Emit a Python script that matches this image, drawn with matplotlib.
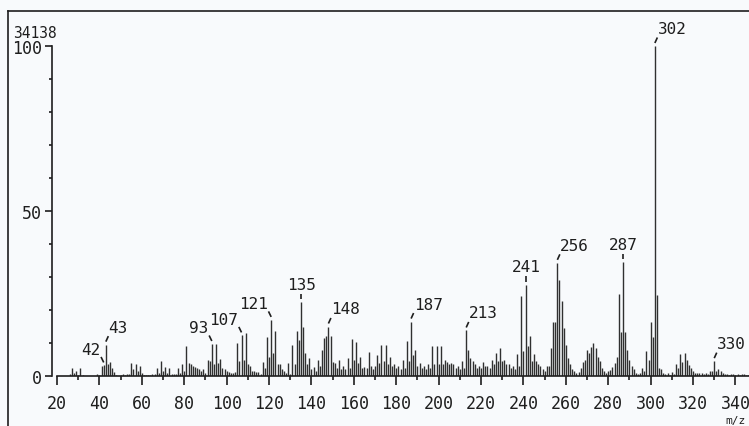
import matplotlib
matplotlib.use("Agg")
import matplotlib.pyplot as plt
from matplotlib.lines import Line2D
from matplotlib.transforms import IdentityTransform, ScaledTranslation
import numpy as np

# ---- data: m/z and relative intensity (%) ----
mz = list(range(20, 347))
intensity = [
    0, 0, 0, 0, 0, 0, 0.5, 2.5, 1.0, 1.5,          # 20-29
    0.3, 2.5, 0.3, 0, 0, 0, 0, 0, 0, 0.5,            # 30-39
    0.3, 3.0, 3.2, 9.5, 3.5, 4.2, 2.5, 1.2, 0.3, 0,  # 40-49
    0.3, 0.5, 0.3, 0.5, 0.5, 4.0, 2.0, 3.5, 1.5, 3.0,  # 50-59
    1.0, 0.3, 0.3, 0.3, 0.3, 0.5, 0.5, 2.5, 1.0, 4.5,  # 60-69
    1.5, 2.8, 1.0, 2.5, 0.5, 0.5, 0.5, 2.5, 1.0, 3.5,  # 70-79
    1.5, 9.0, 3.8, 3.5, 3.0, 2.7, 2.5, 2.0, 1.5, 2.0,  # 80-89
    1.0, 4.7, 4.5, 9.7, 3.5, 9.7, 4.0, 5.2, 2.5, 2.0,  # 90-99
    1.5, 1.2, 0.8, 0.8, 1.2, 10.0, 4.5, 12.3, 5.0, 13.0,  # 100-109
    3.5, 3.0, 1.5, 1.5, 1.3, 1.3, 0.5, 4.2, 2.5, 11.9,  # 110-119
    5.9, 17.0, 7.0, 13.6, 3.7, 3.5, 2.0, 1.5, 1.0, 3.8,  # 120-129
    0.5, 9.5, 3.5, 13.7, 11.0, 22.3, 15.0, 7.0, 3.5, 5.5,  # 130-139
    2.0, 2.8, 1.5, 4.8, 3.0, 7.8, 11.5, 12.0, 15.0, 12.0,  # 140-149
    4.3, 4.0, 2.5, 4.8, 2.0, 3.0, 2.0, 5.5, 2.5, 11.3,  # 150-159
    5.0, 10.2, 4.0, 5.7, 2.5, 2.8, 2.5, 7.2, 3.0, 2.0,  # 160-169
    3.0, 6.3, 4.0, 9.4, 4.5, 9.5, 3.5, 5.8, 3.0, 3.5,  # 170-179
    2.5, 3.0, 2.0, 4.8, 2.5, 10.6, 4.5, 16.5, 6.3, 7.9,  # 180-189
    3.0, 4.0, 2.5, 3.0, 2.0, 3.5, 2.5, 9.1, 3.5, 9.2,  # 190-199
    3.5, 9.0, 3.5, 4.7, 4.3, 3.5, 4.0, 3.5, 2.5, 3.0,  # 200-209
    2.0, 4.5, 2.5, 13.8, 7.8, 5.6, 4.5, 3.5, 2.5, 3.0,  # 210-219
    2.5, 4.3, 3.0, 3.0, 2.5, 4.7, 3.5, 7.1, 4.5, 8.6,  # 220-229
    4.5, 5.0, 3.5, 3.5, 2.5, 3.0, 2.0, 6.6, 3.0, 24.2,  # 230-239
    7.6, 27.6, 9.0, 12.1, 4.5, 6.6, 4.5, 3.5, 3.0, 2.0,  # 240-249
    1.5, 3.0, 3.0, 8.6, 16.5, 16.5, 34.3, 29.0, 22.8, 14.5,  # 250-259
    9.5, 5.5, 3.5, 2.0, 1.5, 1.0, 1.3, 2.3, 4.3, 4.8,  # 260-269
    7.9, 6.9, 8.9, 10.1, 8.4, 5.9, 4.5, 2.3, 1.6, 1.0,  # 270-279
    1.5, 1.8, 2.8, 3.8, 5.9, 24.8, 13.4, 34.5, 13.4, 7.9,  # 280-289
    4.8, 3.0, 2.0, 1.0, 0.5, 1.0, 2.5, 1.5, 7.6, 4.8,  # 290-299
    16.5, 11.9, 100.0, 24.5, 2.3, 2.0, 0.8, 0.5, 0.8, 0.3,  # 300-309
    1.3, 0.5, 3.6, 2.3, 6.7, 4.3, 6.9, 4.8, 3.3, 2.3,  # 310-319
    1.6, 1.0, 1.0, 1.0, 0.8, 0.5, 1.0, 0.5, 1.5, 1.5,  # 320-329
    4.5, 1.5, 2.0, 1.5, 0.8, 0.5, 0.5, 0.3, 0.5, 0.5,  # 330-339
    0.3, 0.5, 0.3, 0.5, 0.5, 0.3, 0.3,               # 340-346
]

label_mz = [42, 43, 93, 107, 121, 135, 148, 187, 213, 241, 256, 287, 302, 330]
label_side = ['l', 'r', 'l', 'l', 'l', 'u', 'r', 'r', 'r', 'u', 'r', 'u', 'r', 'r']

x_major = list(range(20, 341, 20))
x_minor = list(range(30, 341, 20))
y_major = [0, 50, 100]
y_minor = [10, 20, 30, 40, 60, 70, 80, 90]
base_peak_count = "34138"

# ---- figure ----
W, H = 749, 427
fig = plt.figure(figsize=(W / 100, H / 100), dpi=100, facecolor='#f8fafc')
ax = fig.add_axes([52 / W, 1 - 377 / H, 1 - 52 / W, (377 - 47) / H])
ax.set_facecolor('none')

ink = '#1e1e1e'
font = ['DejaVu Sans Mono']

ax.vlines(mz, 0, intensity, color='#303030', lw=1.0)

ax.set_xlim(17.6, 346.4)
ax.set_ylim(0, 100)

for s in ['top', 'right']:
    ax.spines[s].set_visible(False)
ax.spines['bottom'].set_bounds(20, 346.4)
ax.spines['left'].set_bounds(0, 100)
for s in ['bottom', 'left']:
    ax.spines[s].set_color(ink)
    ax.spines[s].set_linewidth(1.2)

ax.set_xticks(x_major)
ax.set_xticks(x_minor, minor=True)
ax.set_yticks(y_major)
ax.set_yticks(y_minor, minor=True)
ax.tick_params(axis='x', which='major', direction='out', length=6.5, width=1.2,
               color=ink, pad=6.5, labelsize=12, labelcolor=ink)
ax.tick_params(axis='x', which='minor', direction='out', length=3, width=1.2, color=ink)
ax.tick_params(axis='y', which='major', direction='out', length=5, width=1.2,
               color=ink, pad=2, labelsize=12, labelcolor=ink)
ax.tick_params(axis='y', which='minor', direction='out', length=2.5, width=1.2, color=ink)
for lab in ax.get_xticklabels() + ax.get_yticklabels():
    lab.set_family(font)

# ---- peak labels ----
inten_of = dict(zip(mz, intensity))
for m, side in zip(label_mz, label_side):
    yv = inten_of[m]
    dx = {'l': -2.7, 'u': 0.0, 'r': 2.5}[side]
    anchor = IdentityTransform() + ScaledTranslation(m, yv, ax.transData)
    ax.add_artist(Line2D([0, dx], [3.0, 8.5], transform=anchor, color=ink,
                         lw=1.2, solid_capstyle='butt', clip_on=False))
    if side == 'l':
        tx, ty, ha = dx - 0.5, 11.5, 'right'
    elif side == 'u':
        tx, ty, ha = 0.5, 13.5, 'center'
    else:
        tx, ty, ha = dx, 13.0, 'left'
    ax.annotate(str(m), xy=(m, yv), xycoords='data', xytext=(tx, ty),
                textcoords='offset pixels', ha=ha, va='baseline',
                fontsize=11.5, family=font, color=ink, annotation_clip=False)

# ---- extra texts ----
fig.text(13 / W, 1 - 37.5 / H, base_peak_count, ha='left', va='baseline',
         fontsize=10.5, family=font, color=ink)
fig.text(746 / W, 1 - 424 / H, 'm/z', ha='right', va='baseline',
         fontsize=8, family=font, color=ink)

# ---- frame (top and left edges visible) ----
fig.add_artist(Line2D([8 / W, 1], [1 - 12 / H, 1 - 12 / H], transform=fig.transFigure,
                      color=ink, lw=1.2))
fig.add_artist(Line2D([8 / W, 8 / W], [0, 1 - 12 / H], transform=fig.transFigure,
                      color=ink, lw=1.2))

fig.savefig('out.png', dpi=100, facecolor=fig.get_facecolor())
